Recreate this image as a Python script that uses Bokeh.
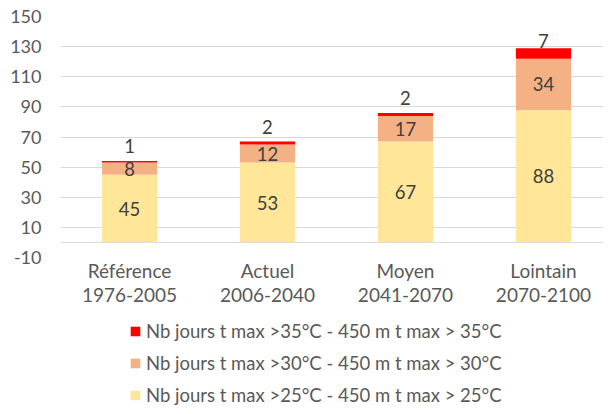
from bokeh.plotting import figure
from bokeh.layouts import column
from bokeh.models import Range1d, FixedTicker, Legend, LegendItem, Span, ColumnDataSource
from bokeh.embed import file_html
from bokeh.resources import INLINE
from bokeh.core.properties import value

# ---- data ----
categories = ["Référence\n1976-2005", "Actuel\n2006-2040", "Moyen\n2041-2070", "Lointain\n2070-2100"]
t25 = [45, 53, 67, 88]
t30 = [8, 12, 17, 34]
t35 = [1, 2, 2, 7]
y_ticks = [-10, 10, 30, 50, 70, 90, 110, 130, 150]
name25 = "Nb jours t max >25°C - 450 m t max > 25°C"
name30 = "Nb jours t max >30°C - 450 m t max > 30°C"
name35 = "Nb jours t max >35°C - 450 m t max > 35°C"

# ---- styles ----
FONT = "Lato"
C25, C30, C35 = "#FFE699", "#F4B183", "#FF0000"
AXIS_TXT = "#595959"
LBL_TXT = "#404040"
GRID = "#D9D9D9"
top_label_offsets = [-15, -15, -15, -7]

xs = list(range(len(categories)))
mid25 = [a / 2 for a in t25]
mid30 = [a + b / 2 for a, b in zip(t25, t30)]
tot = [a + b + c for a, b, c in zip(t25, t30, t35)]

src = ColumnDataSource(dict(x=xs, t25=t25, t30=t30, t35=t35,
                            mid25=mid25, mid30=mid30, tot=tot,
                            l25=[str(v) for v in t25], l30=[str(v) for v in t30],
                            l35=[str(v) for v in t35], off=top_label_offsets))

p = figure(width=603, height=310, output_backend="svg", toolbar_location=None,
           x_range=Range1d(-0.5, 3.435), y_range=Range1d(-10, 150),
           min_border_left=60, min_border_right=0, min_border_top=16, min_border_bottom=53)
p.outline_line_color = None
p.background_fill_color = "white"
p.border_fill_color = "white"

rs = p.vbar_stack(["t25", "t30", "t35"], x="x", width=0.4, color=[C25, C30, C35],
                  line_color=None, source=src)

# zero axis line
p.add_layout(Span(location=0, dimension="width", line_color=GRID, line_width=1))

# data labels
common = dict(text_font=value(FONT), text_font_size="18.5px", text_color=LBL_TXT,
              text_align="center", text_baseline="middle", source=src)
p.text(x="x", y="mid25", text="l25", **common)
p.text(x="x", y="mid30", text="l30", **common)
p.text(x="x", y="tot", text="l35", y_offset="off", **common)

# y axis
p.yaxis.ticker = FixedTicker(ticks=y_ticks)
p.yaxis.major_label_overrides = {t: str(t) for t in y_ticks}
p.ygrid.ticker = FixedTicker(ticks=y_ticks)
p.ygrid.grid_line_color = GRID
p.xgrid.grid_line_color = None
p.yaxis.axis_line_color = None
p.yaxis.major_tick_line_color = None
p.yaxis.minor_tick_line_color = None
p.yaxis.major_tick_out = 0
p.yaxis.major_tick_in = 0
p.yaxis.major_label_standoff = 19
p.yaxis.major_label_text_font = FONT
p.yaxis.major_label_text_font_size = "18px"
p.yaxis.major_label_text_color = AXIS_TXT

# x axis
p.xaxis.ticker = FixedTicker(ticks=xs)
p.xaxis.major_label_overrides = {i: c for i, c in zip(xs, categories)}
p.xaxis.axis_line_color = None
p.xaxis.major_tick_line_color = None
p.xaxis.minor_tick_line_color = None
p.xaxis.major_tick_out = 0
p.xaxis.major_tick_in = 0
p.xaxis.major_label_standoff = 1
p.xaxis.major_label_text_font = FONT
p.xaxis.major_label_text_font_size = "19px"
p.xaxis.major_label_text_line_height = 1.05
p.xaxis.major_label_text_color = AXIS_TXT

# ---- legend strip (separate figure below the chart) ----
lg = figure(width=603, height=96, output_backend="svg", toolbar_location=None,
            x_range=Range1d(-0.5, 3.435), y_range=Range1d(-10, 150),
            x_axis_location=None, y_axis_location=None,
            min_border_left=60, min_border_right=0, min_border_top=0, min_border_bottom=0)
lg.outline_line_color = None
lg.xgrid.grid_line_color = None
lg.ygrid.grid_line_color = None
lrs = lg.vbar_stack(["t25", "t30", "t35"], x="x", width=0.4, color=[C25, C30, C35],
                    line_color=None, source=src)
for r in lrs:
    r.visible = False

legend = Legend(items=[LegendItem(label=name35, renderers=[lrs[2]]),
                       LegendItem(label=name30, renderers=[lrs[1]]),
                       LegendItem(label=name25, renderers=[lrs[0]])],
                location=(69, 0), orientation="vertical",
                glyph_width=12, glyph_height=12, label_height=22, spacing=10,
                label_standoff=5, padding=0, margin=0,
                border_line_color=None, background_fill_alpha=0,
                label_text_font=FONT, label_text_font_size="18.5px",
                label_text_color=AXIS_TXT)
lg.add_layout(legend, "center")

layout = column(p, lg, spacing=0)
open("out.html", "w").write(file_html(layout, INLINE))
